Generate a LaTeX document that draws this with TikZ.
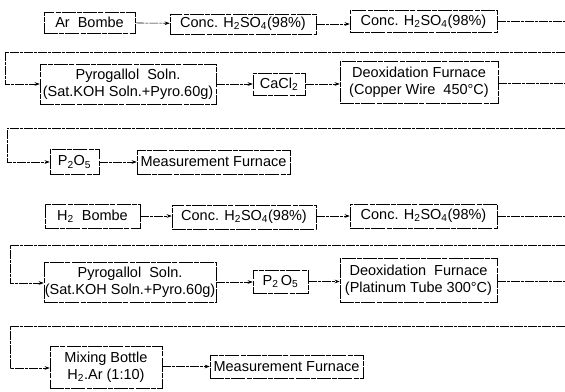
\documentclass[tikz,border=0pt]{standalone}
\usepackage{fontspec}
\setmainfont{Liberation Sans}
\usetikzlibrary{arrows.meta}
\newcommand{\sub}[1]{\textsubscript{#1}}
\tikzset{
  box/.style={draw, line width=0.6pt, dash pattern=on 14pt off 1.2pt on 5pt off 1.2pt,
    inner sep=0pt, align=center, font=\fontsize{14.5}{16.5}\selectfont},
  conn/.style={line width=0.55pt, dash pattern=on 9pt off 1pt on 3pt off 1pt},
  arr/.style={conn, -{Stealth[length=5pt,width=3.6pt]}},
}
\begin{document}
\begin{tikzpicture}[x=1pt,y=-1pt]
\useasboundingbox (0,0) rectangle (565,391);
% row 1
\node[box, minimum width=91pt, minimum height=21pt] (arb) at (89.5,22.5) {Ar\ \ Bombe};
\node[box, minimum width=146pt, minimum height=20pt] (ca1) at (243,24) {Conc. H\sub{2}SO\sub{4}(98\%)};
\node[box, minimum width=147pt, minimum height=22pt] (ca2) at (423.5,21.5) {Conc. H\sub{2}SO\sub{4}(98\%)};
\coordinate (e1) at (565,21.5);
\coordinate (r1) at (565,52);
\draw[arr] (arb) -- (ca1);
\draw[arr] (ca1.east) -- (ca1.east -| ca2.west);
\draw[conn] (ca2.east) -- (e1);
% row 2
\node[box, minimum width=176pt, minimum height=40pt] (pya) at (128,84) {Pyrogallol\ \ Soln.\\(Sat.KOH Soln.+Pyro.60g)};
\node[box, minimum width=52pt, minimum height=22pt] (cacl) at (279,84) {CaCl\sub{2}};
\node[box, minimum width=158pt, minimum height=42pt] (dxa) at (419,82) {Deoxidation Furnace\\(Copper Wire\ \ 450°C)};
\coordinate (e2) at (565,83);
\coordinate (r2) at (565,128);
\draw[arr] (r1) -| (5,84) -- (pya.west);
\draw[arr] (pya.east) -- (pya.east -| cacl.west);
\draw[arr] (cacl.east) -- (cacl.east -| dxa.west);
\draw[conn] (dxa.east |- e2) -- (e2);
% row 3
\node[box, minimum width=49pt, minimum height=25pt] (pta) at (74.5,162) {P\sub{2}O\sub{5}};
\node[box, minimum width=153pt, minimum height=24pt] (mfa) at (213.5,162) {Measurement Furnace};
\draw[arr] (r2) -| (7,162) -- (pta.west);
\draw[arr] (pta) -- (mfa);
% row 4
\node[box, minimum width=95pt, minimum height=24pt] (h2b) at (92.5,216) {H\sub{2}\ \ Bombe};
\node[box, minimum width=144pt, minimum height=24pt] (cb1) at (244,217) {Conc. H\sub{2}SO\sub{4}(98\%)};
\node[box, minimum width=147pt, minimum height=24pt] (cb2) at (423.5,216) {Conc. H\sub{2}SO\sub{4}(98\%)};
\coordinate (e4) at (565,216);
\coordinate (r4) at (565,245);
\draw[arr] (h2b.east) -- (h2b.east -| cb1.west);
\draw[arr] (cb1.east |- cb2.west) -- (cb2.west);
\draw[conn] (cb2.east) -- (e4);
% row 5
\node[box, minimum width=172pt, minimum height=40pt] (pyb) at (130,282) {Pyrogallol\ \ Soln.\\(Sat.KOH Soln.+Pyro.60g)};
\node[box, minimum width=55pt, minimum height=23pt] (ptb) at (280.5,281.5) {P\sub{2}\,O\sub{5}};
\node[box, minimum width=157pt, minimum height=44pt] (dxb) at (418.5,280) {Deoxidation\ \ Furnace\\(Platinum Tube 300°C)};
\coordinate (e5) at (565,281);
\coordinate (r5) at (565,326);
\draw[arr] (r4) -| (10,283) -- (pyb.west |- 0,283);
\draw[arr] (pyb.east) -- (pyb.east -| ptb.west);
\draw[arr] (ptb.east) -- (ptb.east -| dxb.west);
\draw[conn] (dxb.east |- e5) -- (e5);
% row 6
\node[box, minimum width=112pt, minimum height=42pt] (mix) at (106,367) {Mixing Bottle\\H\sub{2}.Ar\ (1:10)};
\node[box, minimum width=153pt, minimum height=23pt] (mfb) at (286.5,366.5) {Measurement Furnace};
\draw[arr] (r5) -| (10,368) -- (mix.west |- 0,368);
\draw[arr] (mix.east |- mfb.west) -- (mfb.west);
\end{tikzpicture}
\end{document}
